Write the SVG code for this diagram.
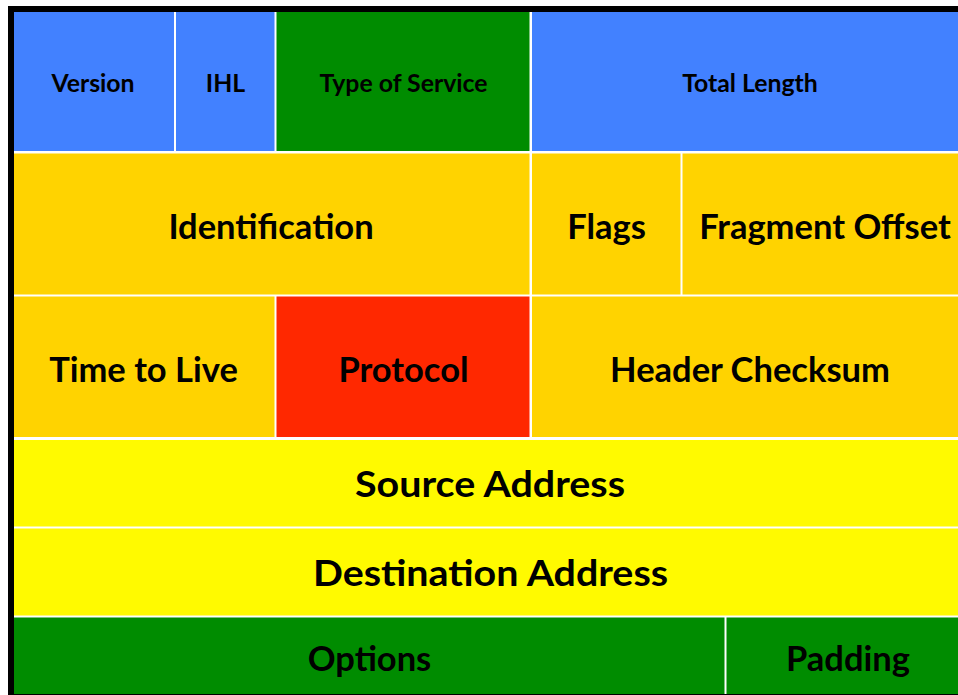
<svg xmlns="http://www.w3.org/2000/svg" width="958" height="695" viewBox="0 0 958 695">
<style>
.t{font-family:Lato,"Open Sans","Liberation Sans",sans-serif;font-weight:700;fill:#000;text-anchor:middle}
.s{font-size:24.8px}
.l{font-size:34.5px}
.xl{font-size:36px}
.blue{fill:#4281FF}
.green{fill:#008C00}
.gold{fill:#FFD300}
.red{fill:#FF2800}
.yel{fill:#FFFA00}
</style>
<rect x="0" y="0" width="958" height="695" fill="#fff"/>
<rect x="8" y="6" width="950" height="689" fill="#000"/>
<rect x="14" y="12" width="944" height="682" fill="#fff"/>
<g id="version"><rect class="blue" x="14" y="12" width="160" height="139"/><text class="t s" x="93" y="92">Version</text></g>
<g id="ihl"><rect class="blue" x="176" y="12" width="98.5" height="139"/><text class="t s" x="225.5" y="92">IHL</text></g>
<g id="tos"><rect class="green" x="276.5" y="12" width="253" height="139"/><text class="t s" x="403.5" y="92">Type of Service</text></g>
<g id="totlen"><rect class="blue" x="532" y="12" width="426" height="139"/><text class="t s" x="750" y="92">Total Length</text></g>
<g id="ident"><rect class="gold" x="14" y="153.5" width="515.5" height="141"/><text class="t l" x="271" y="238.5">Identification</text></g>
<g id="flags"><rect class="gold" x="532" y="153.5" width="148.5" height="141"/><text class="t l" x="606.5" y="238.5">Flags</text></g>
<g id="fragoff"><rect class="gold" x="682.5" y="153.5" width="275.5" height="141"/><text class="t l" x="825" y="238.5">Fragment Offset</text></g>
<g id="ttl"><rect class="gold" x="14" y="296.5" width="260.5" height="140.5"/><text class="t l" x="143.5" y="381.5">Time to Live</text></g>
<g id="proto"><rect class="red" x="276.5" y="296.5" width="253" height="140.5"/><text class="t l" x="403.5" y="381.5">Protocol</text></g>
<g id="cksum"><rect class="gold" x="532" y="296.5" width="426" height="140.5"/><text class="t l" x="750" y="381.5">Header Checksum</text></g>
<g id="src"><rect class="yel" x="14" y="440" width="944" height="86.5"/><text class="t xl" x="490" y="497" textLength="270" lengthAdjust="spacingAndGlyphs">Source Address</text></g>
<g id="dst"><rect class="yel" x="14" y="528.5" width="944" height="87"/><text class="t xl" x="490.5" y="586" textLength="355" lengthAdjust="spacingAndGlyphs">Destination Address</text></g>
<g id="opts"><rect class="green" x="14" y="617.5" width="710.5" height="76.5"/><text class="t l" x="369.5" y="671">Options</text></g>
<g id="pad"><rect class="green" x="726.5" y="617.5" width="231.5" height="76.5"/><text class="t l" x="848" y="671">Padding</text></g>
<g id="connectors"></g>
</svg>
